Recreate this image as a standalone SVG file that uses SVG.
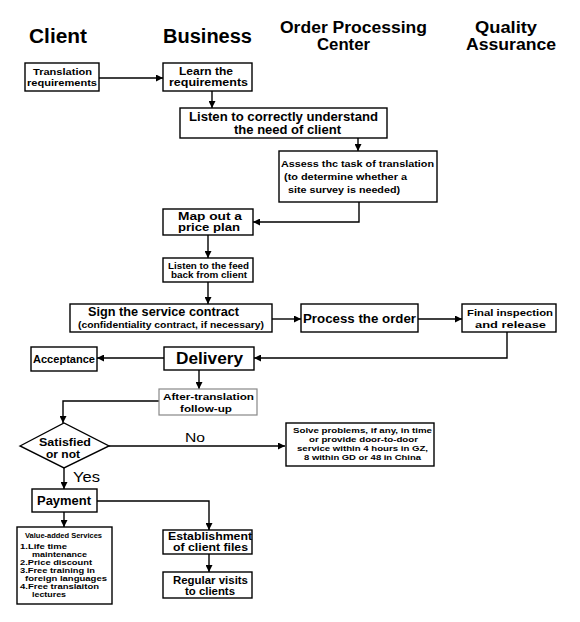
<svg xmlns="http://www.w3.org/2000/svg" width="580" height="622" viewBox="0 0 580 622">
<style>
.b{fill:#fff;stroke:#000;stroke-width:1.4}
.t{font-family:"Liberation Sans",Arial,sans-serif;font-weight:bold;fill:#000}
.n{font-family:"Liberation Sans",Arial,sans-serif;font-weight:normal;fill:#000}
.c{fill:none;stroke:#000;stroke-width:1.4;marker-end:url(#ah)}
</style>
<defs>
<marker id="ah" viewBox="0 0 8 8" refX="8" refY="4" markerWidth="7" markerHeight="7" markerUnits="userSpaceOnUse" orient="auto">
<path d="M0,0 L8,4 L0,8 z" fill="#000"/>
</marker>
</defs>
<rect width="580" height="622" fill="#fff"/>
<g id="headers">
<text class="t" x="29" y="43" font-size="19.5" textLength="58" lengthAdjust="spacingAndGlyphs">Client</text>
<text class="t" x="163" y="43" font-size="19.5" textLength="89" lengthAdjust="spacingAndGlyphs">Business</text>
<text class="t" x="280" y="33" font-size="16" textLength="147" lengthAdjust="spacingAndGlyphs">Order Processing</text>
<text class="t" x="317" y="50" font-size="16" textLength="53" lengthAdjust="spacingAndGlyphs">Center</text>
<text class="t" x="475" y="33" font-size="16" textLength="62" lengthAdjust="spacingAndGlyphs">Quality</text>
<text class="t" x="466" y="50" font-size="16" textLength="90" lengthAdjust="spacingAndGlyphs">Assurance</text>
</g>
<g id="connectors">
<path class="c" d="M99,78 H163"/>
<path class="c" d="M212,91 V108"/>
<path class="c" d="M358,138 V151"/>
<path class="c" d="M359,202 V222 H253"/>
<path class="c" d="M208,235 V258"/>
<path class="c" d="M208,282 V304"/>
<path class="c" d="M272,319 H301"/>
<path class="c" d="M418,319 H462"/>
<path class="c" d="M507,332 V358 H254"/>
<path class="c" d="M164,358 H97"/>
<path class="c" d="M199,370 V389"/>
<path class="c" d="M159,401 H63 V423"/>
<path class="c" d="M109,446 H285"/>
<path class="c" d="M64,468 V489"/>
<path class="c" d="M97,501 H209 V530"/>
<path class="c" d="M64,512 V527"/>
<path class="c" d="M209,554 V572"/>
<text class="n" x="185" y="442" font-size="13" textLength="20" lengthAdjust="spacingAndGlyphs">No</text>
<text class="n" x="73" y="482" font-size="15" textLength="27" lengthAdjust="spacingAndGlyphs">Yes</text>
</g>
<g id="translation-requirements">
<rect class="b" x="25" y="63" width="74" height="28"/>
<text class="t" x="33" y="75" font-size="9.5" textLength="59" lengthAdjust="spacingAndGlyphs">Translation</text>
<text class="t" x="27" y="86" font-size="9.5" textLength="70" lengthAdjust="spacingAndGlyphs">requirements</text>
</g>
<g id="learn">
<rect class="b" x="163" y="63" width="89" height="28"/>
<text class="t" x="179" y="75" font-size="10.5" textLength="54" lengthAdjust="spacingAndGlyphs">Learn the</text>
<text class="t" x="169" y="86" font-size="10.5" textLength="79" lengthAdjust="spacingAndGlyphs">requirements</text>
</g>
<g id="listen-need">
<rect class="b" x="180" y="108" width="207" height="30"/>
<text class="t" x="189" y="121" font-size="12" textLength="189" lengthAdjust="spacingAndGlyphs">Listen to correctly understand</text>
<text class="t" x="234" y="134" font-size="12" textLength="107" lengthAdjust="spacingAndGlyphs">the need of client</text>
</g>
<g id="assess">
<rect class="b" x="279" y="151" width="158" height="51"/>
<text class="t" x="281" y="167" font-size="9" textLength="153" lengthAdjust="spacingAndGlyphs">Assess thc task of translation</text>
<text class="t" x="284" y="180" font-size="9" textLength="123" lengthAdjust="spacingAndGlyphs">(to determine whether a</text>
<text class="t" x="288" y="193" font-size="9" textLength="112" lengthAdjust="spacingAndGlyphs">site survey is needed)</text>
</g>
<g id="price-plan">
<rect class="b" x="163" y="209" width="90" height="26"/>
<text class="t" x="178" y="220" font-size="11" textLength="64" lengthAdjust="spacingAndGlyphs">Map out a</text>
<text class="t" x="178" y="231" font-size="11" textLength="62" lengthAdjust="spacingAndGlyphs">price plan</text>
</g>
<g id="feedback">
<rect class="b" x="163" y="258" width="90" height="24"/>
<text class="t" x="168" y="269" font-size="9" textLength="81" lengthAdjust="spacingAndGlyphs">Listen to the feed</text>
<text class="t" x="171" y="278" font-size="9" textLength="76" lengthAdjust="spacingAndGlyphs">back from client</text>
</g>
<g id="sign-contract">
<rect class="b" x="70" y="304" width="202" height="28"/>
<text class="t" x="88" y="316" font-size="13" textLength="151" lengthAdjust="spacingAndGlyphs">Sign the service contract</text>
<text class="t" x="78" y="328" font-size="9.5" textLength="186" lengthAdjust="spacingAndGlyphs">(confidentiality contract, if necessary)</text>
</g>
<g id="process-order">
<rect class="b" x="301" y="304" width="117" height="28"/>
<text class="t" x="303" y="323" font-size="13" textLength="113" lengthAdjust="spacingAndGlyphs">Process the order</text>
</g>
<g id="final-inspection">
<rect class="b" x="462" y="304" width="94" height="28"/>
<text class="t" x="467" y="316" font-size="9.5" textLength="86" lengthAdjust="spacingAndGlyphs">Final inspection</text>
<text class="t" x="475" y="328" font-size="9.5" textLength="71" lengthAdjust="spacingAndGlyphs">and release</text>
</g>
<g id="acceptance">
<rect class="b" x="31" y="347" width="66" height="24"/>
<text class="t" x="33" y="363" font-size="10" textLength="62" lengthAdjust="spacingAndGlyphs">Acceptance</text>
</g>
<g id="delivery">
<rect class="b" x="164" y="347" width="90" height="23"/>
<text class="t" x="176" y="364" font-size="16" textLength="67" lengthAdjust="spacingAndGlyphs">Delivery</text>
</g>
<g id="follow-up">
<rect x="159" y="389" width="98" height="26" fill="#fff" stroke="#888" stroke-width="1.2"/>
<text class="t" x="163" y="400" font-size="9.5" textLength="91" lengthAdjust="spacingAndGlyphs">After-translation</text>
<text class="t" x="180" y="412" font-size="9.5" textLength="52" lengthAdjust="spacingAndGlyphs">follow-up</text>
</g>
<g id="satisfied">
<polygon class="b" points="20,446 64,423 109,446 64,468"/>
<text class="t" x="39" y="446" font-size="11.5" textLength="52" lengthAdjust="spacingAndGlyphs">Satisfied</text>
<text class="t" x="46" y="458" font-size="11.5" textLength="34" lengthAdjust="spacingAndGlyphs">or not</text>
</g>
<g id="solve-problems">
<rect class="b" x="286" y="423" width="148" height="43"/>
<text class="t" x="293" y="433" font-size="8" textLength="139" lengthAdjust="spacingAndGlyphs">Solve problems, if any, in time</text>
<text class="t" x="309" y="442" font-size="8" textLength="109" lengthAdjust="spacingAndGlyphs">or provide door-to-door</text>
<text class="t" x="297" y="451" font-size="8" textLength="131" lengthAdjust="spacingAndGlyphs">service within 4 hours in GZ,</text>
<text class="t" x="304" y="460" font-size="8" textLength="117" lengthAdjust="spacingAndGlyphs">8 within GD or 48 in China</text>
</g>
<g id="payment">
<rect class="b" x="32" y="489" width="65" height="23"/>
<text class="t" x="37" y="505" font-size="12" textLength="54" lengthAdjust="spacingAndGlyphs">Payment</text>
</g>
<g id="value-added">
<rect class="b" x="17" y="527" width="95" height="77"/>
<text class="t" x="25" y="538" font-size="7" textLength="77" lengthAdjust="spacingAndGlyphs">Value-added Services</text>
<text class="t" x="20" y="549" font-size="7.5" textLength="47" lengthAdjust="spacingAndGlyphs">1.Life time</text>
<text class="t" x="32" y="557" font-size="7.5" textLength="55" lengthAdjust="spacingAndGlyphs">maintenance</text>
<text class="t" x="20" y="565" font-size="7.5" textLength="72" lengthAdjust="spacingAndGlyphs">2.Price discount</text>
<text class="t" x="20" y="573" font-size="7.5" textLength="75" lengthAdjust="spacingAndGlyphs">3.Free training in</text>
<text class="t" x="25" y="581" font-size="7.5" textLength="82" lengthAdjust="spacingAndGlyphs">foreign languages</text>
<text class="t" x="20" y="589" font-size="7.5" textLength="79" lengthAdjust="spacingAndGlyphs">4.Free translaiton</text>
<text class="t" x="32" y="597" font-size="7.5" textLength="34" lengthAdjust="spacingAndGlyphs">lectures</text>
</g>
<g id="client-files">
<rect class="b" x="163" y="530" width="89" height="24"/>
<text class="t" x="168" y="540" font-size="11" textLength="84" lengthAdjust="spacingAndGlyphs">Establishment</text>
<text class="t" x="173" y="551" font-size="11" textLength="75" lengthAdjust="spacingAndGlyphs">of client files</text>
</g>
<g id="regular-visits">
<rect class="b" x="163" y="572" width="89" height="26"/>
<text class="t" x="173" y="584" font-size="10.5" textLength="75" lengthAdjust="spacingAndGlyphs">Regular visits</text>
<text class="t" x="185" y="595" font-size="10.5" textLength="50" lengthAdjust="spacingAndGlyphs">to clients</text>
</g>
</svg>
